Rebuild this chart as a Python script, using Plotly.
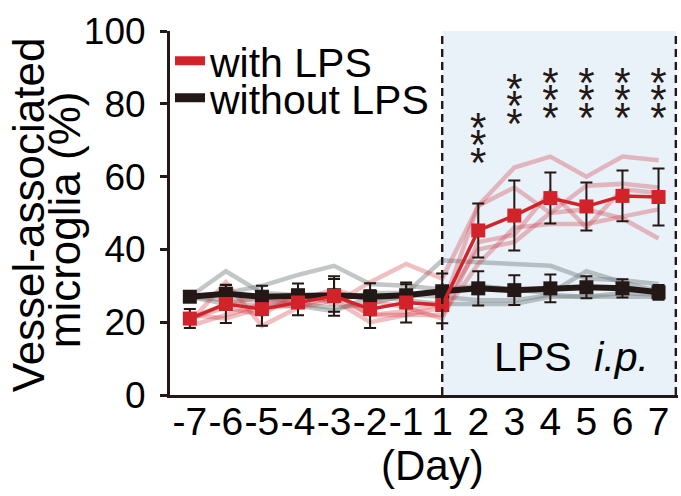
import plotly.graph_objects as go

days = ["-7", "-6", "-5", "-4", "-3", "-2", "-1", "1", "2", "3", "4", "5", "6", "7"]

# group means and SEM
with_lps_mean = [21, 25, 23.6, 25.4, 27.2, 23.6, 25.4, 24.7, 45.2, 49.3, 54.1, 51.8, 54.7, 54.4]
with_lps_err = [2.6, 5.2, 4.6, 3.5, 5.4, 5.2, 5.5, 5, 7.4, 9.6, 7, 6.6, 7, 7.8]
without_lps_mean = [27, 27.8, 27, 27.4, 27.4, 27, 27.4, 28.5, 29.3, 28.8, 29.3, 29.6, 29.3, 28.2]
without_lps_err = [0.8, 2.5, 3, 3.2, 4.5, 3.7, 3, 4.9, 4.7, 4.1, 3.8, 3, 2.5, 2]

# individual animals
with_lps_1 = [20, 31, 19, 24, 26, 20, 22, 24, 52, 62.5, 65.5, 60, 65.5, 64.5]
with_lps_2 = [21, 24, 22, 28, 25, 31, 36, 32, 52, 57, 50, 57.5, 58, 57]
with_lps_3 = [19, 22, 25, 26, 29, 26, 24, 21, 42, 44, 56, 46, 56.5, 55.5]
with_lps_4 = [22, 21, 24, 24.5, 27, 22, 23, 25, 40, 42, 50, 51, 48.5, 43]
with_lps_5 = [21, 25, 27, 25, 28, 22, 22, 22, 36, 46, 47, 47, 49, 51]

without_lps_1 = [27, 34, 28, 27.5, 26, 28, 28, 37, 36.5, 36, 35.5, 32, 31.5, 30.5]
without_lps_2 = [27, 28, 30, 33, 35.5, 30.5, 30, 29, 30, 29, 28, 34, 31, 28.5]
without_lps_3 = [27, 25, 24.5, 24.5, 23, 27, 26, 25, 25, 25, 27, 27, 28, 27.5]
without_lps_4 = [27, 26, 26, 25, 24, 25, 27.5, 27, 26, 26, 27.5, 27, 27, 27]

# significance (*** per day), top star level
sig_days = ["2", "3", "4", "5", "6", "7"]
sig_top = [74.9, 85.6, 87.2, 87.2, 87.2, 87.2]
sig_text = "*"

RED = "#d2232a"
BLACK = "#231815"
FONT = "Liberation Sans, Arial, Helvetica, sans-serif"

fig = go.Figure()

for s in [without_lps_1, without_lps_2, without_lps_3, without_lps_4]:
    fig.add_trace(go.Scatter(x=days, y=s, mode="lines", showlegend=False,
                             line=dict(color="rgba(110,118,118,0.42)", width=4.5),
                             hoverinfo="skip"))
for s in [with_lps_1, with_lps_2, with_lps_3, with_lps_4, with_lps_5]:
    fig.add_trace(go.Scatter(x=days, y=s, mode="lines", showlegend=False,
                             line=dict(color="rgba(210,40,50,0.30)", width=4.5),
                             hoverinfo="skip"))

fig.add_trace(go.Scatter(x=days, y=without_lps_mean, mode="lines+markers", showlegend=False,
                         line=dict(color=BLACK, width=6),
                         marker=dict(symbol="square", size=14, color=BLACK),
                         error_y=dict(type="data", array=without_lps_err, color=BLACK,
                                      thickness=2, width=6)))
fig.add_trace(go.Scatter(x=days, y=with_lps_mean, mode="lines+markers", showlegend=False,
                         line=dict(color=RED, width=3.5),
                         marker=dict(symbol="square", size=14, color=RED),
                         error_y=dict(type="data", array=with_lps_err, color=BLACK,
                                      thickness=2, width=6)))

# legend entries
fig.add_trace(go.Scatter(x=[None], y=[None], mode="lines", name="with LPS",
                         line=dict(color=RED, width=9), legend="legend"))
fig.add_trace(go.Scatter(x=[None], y=[None], mode="lines", name="without LPS",
                         line=dict(color=BLACK, width=9), legend="legend2"))

# asterisks
star_x, star_y = [], []
for d, t in zip(sig_days, sig_top):
    for k in range(3):
        star_x.append(d)
        star_y.append(t - 4.8 * k - 2.4)
fig.add_trace(go.Scatter(x=star_x, y=star_y, mode="text", text=[sig_text] * len(star_x),
                         textposition="middle center", showlegend=False,
                         textfont=dict(family=FONT, size=42, color=BLACK)))

x_end = len(days) - 0.52
fig.add_shape(type="rect", xref="x", yref="y", x0=7, x1=x_end, y0=0, y1=100,
              fillcolor="#e9f2f9", line=dict(width=0), layer="below")
for xv in [7, x_end]:
    fig.add_shape(type="line", xref="x", yref="y", x0=xv, x1=xv, y0=0, y1=100,
                  line=dict(color=BLACK, width=2.4, dash="8px,5px"), layer="above")

fig.add_annotation(x=0.79, y=0.104, xref="paper", yref="paper", xanchor="center", yanchor="middle",
                   text="LPS  <i>i.p.</i>", showarrow=False,
                   font=dict(family=FONT, size=41, color="black"))

fig.add_annotation(x=-0.279, y=0.4945, xref="paper", yref="paper", xanchor="center", yanchor="middle",
                   text="Vessel-associated", textangle=-90, showarrow=False,
                   font=dict(family=FONT, size=44, color="black"))
fig.add_annotation(x=-0.206, y=0.481, xref="paper", yref="paper", xanchor="center", yanchor="middle",
                   text="microglia (%)", textangle=-90, showarrow=False,
                   font=dict(family=FONT, size=44, color="black"))
fig.add_annotation(x=0.517, y=-0.195, xref="paper", yref="paper", xanchor="center", yanchor="middle",
                   text="(Day)", showarrow=False,
                   font=dict(family=FONT, size=42, color="black"))

fig.update_layout(
    width=681, height=496,
    margin=dict(l=170, r=3, t=31, b=101),
    paper_bgcolor="white", plot_bgcolor="white",
    font=dict(family=FONT, color="black"),
    legend=dict(x=0.0, y=0.9176, xanchor="left", yanchor="middle", bgcolor="rgba(0,0,0,0)",
                font=dict(family=FONT, size=41, color="black")),
    legend2=dict(x=0.0, y=0.816, xanchor="left", yanchor="middle", bgcolor="rgba(0,0,0,0)",
                 font=dict(family=FONT, size=41, color="black")),
    xaxis=dict(type="category", range=[-0.55, x_end + 0.06], showline=True, linecolor=BLACK,
               linewidth=3, ticks="", tickangle=0, showgrid=False, zeroline=False,
               tickmode="array", tickvals=days, ticktext=days, automargin=False,
               ticklabelstandoff=-10,
               tickfont=dict(family=FONT, size=39, color="black")),
    yaxis=dict(range=[0, 100], tickvals=[0, 20, 40, 60, 80, 100], showline=True, linecolor=BLACK,
               linewidth=3, ticks="outside", ticklen=7, tickwidth=3, tickcolor=BLACK,
               showgrid=False, zeroline=False, automargin=False, ticklabelstandoff=7,
               tickfont=dict(family=FONT, size=37, color="black")),
)

fig.write_html("out.html", post_script="document.body.style.margin='0';",
               config={"displayModeBar": False})
